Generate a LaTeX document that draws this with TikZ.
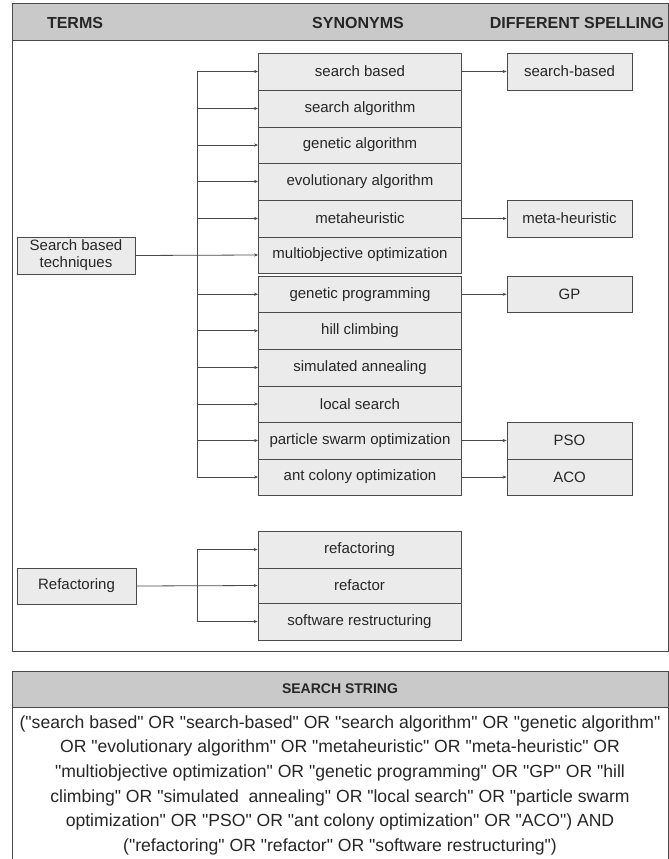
\documentclass[tikz,border=0pt]{standalone}
\usepackage{fontspec}
\setmainfont{Liberation Sans}[Ligatures=TeXOff]
\usetikzlibrary{arrows.meta}
\definecolor{hdrgray}{HTML}{C9C9C9}
\definecolor{boxgray}{HTML}{EBEBEB}
\definecolor{edgegray}{HTML}{4A4A4A}
\begin{document}
\begin{tikzpicture}[x=1pt,y=-1pt,
  panel/.style={draw=edgegray,line width=1pt},
  hdr/.style={font=\fontsize{16}{18}\selectfont\bfseries,text=black!85},
  termbox/.style={draw=edgegray,fill=boxgray,line width=0.8pt,inner sep=0pt,
    font=\fontsize{15}{17}\selectfont,text=black!85,align=center},
  conn/.style={draw=edgegray,line width=0.8pt},
  arr/.style={conn,-{Stealth[length=4pt,width=3.2pt]}}]
\useasboundingbox (0,0) rectangle (669,859);

% ---------- upper panel ----------
\fill[hdrgray] (12,4) rectangle (668,41);
\draw[panel] (12,4) rectangle (668,651);
\draw[panel] (12,41) -- (668,41);
\node[hdr] (hTerms) at (75,22.5) {TERMS};
\node[hdr] (hSyn) at (358,22.5) {SYNONYMS};
\node[hdr] (hSpell) at (577,22.5) {DIFFERENT SPELLING};

% synonym column: name / top / bottom / label
\foreach \n/\t/\b/\l in {
  sb/53/90/search based,
  sa/90/127/search algorithm,
  ga/127/163/genetic algorithm,
  ea/163/200/evolutionary algorithm,
  mh/200/237/metaheuristic,
  mo/237/273/multiobjective optimization,
  gp/276/312.5/genetic programming,
  hc/312.5/349/hill climbing,
  sim/349/386/simulated annealing,
  ls/386/422/local search,
  pso/422/459/particle swarm optimization,
  aco/459/495/ant colony optimization}
{
  \node[termbox,minimum width=203pt,minimum height={(\b-\t)*1pt}]
    (\n) at (360,{(\t+\b)/2}) {\l};
}

% spelling variants
\foreach \n/\t/\b/\l in {
  vsb/53/90/search-based,
  vmh/200/237/meta-heuristic,
  vgp/276/312.5/GP,
  vpso/422/459/PSO,
  vaco/459/495/ACO}
{
  \node[termbox,minimum width=125pt,minimum height={(\b-\t)*1pt}]
    (\n) at (569.5,{(\t+\b)/2}) {\l};
}

\foreach \a/\b in {sb/vsb,mh/vmh,gp/vgp,pso/vpso,aco/vaco}
  \draw[arr] (\a.east) -- (\b.west);

% search based techniques
\node[termbox,minimum width=118pt,minimum height=37pt] (sbt) at (76,255.5)
  {Search based\\techniques};
\coordinate (trunk) at (197,0);
\draw[conn] (trunk |- sb.west) -- (trunk |- aco.west);
\foreach \n in {sb,sa,ga,ea,mh,gp,hc,sim,ls,pso,aco}
  \draw[arr] (trunk |- \n.west) -- (\n.west);
\draw[arr] (sbt.east) -- (mo.west);

% refactoring
\foreach \n/\t/\b/\l in {
  rf/531/568/refactoring,
  rr/568/603/refactor,
  rs/603/640/software restructuring}
{
  \node[termbox,minimum width=203pt,minimum height={(\b-\t)*1pt}]
    (\n) at (359.5,{(\t+\b)/2}) {\l};
}
\node[termbox,minimum width=119pt,minimum height=36pt] (ref) at (76.5,586)
  {Refactoring};
\draw[conn] (trunk |- rf.west) -- (trunk |- rs.west);
\foreach \n in {rf,rs}
  \draw[arr] (trunk |- \n.west) -- (\n.west);
\draw[arr] (ref.east) -- (rr.west);

% ---------- search string panel ----------
\fill[hdrgray] (12,671) rectangle (668,707);
\draw[panel] (12,871) -- (12,671) -- (668,671) -- (668,871);
\draw[panel] (12,707) -- (668,707);
\node[hdr,font=\fontsize{14}{16}\selectfont\bfseries] (hStr) at (340,689) {SEARCH STRING};
\node[font=\fontsize{17.6}{24.6}\selectfont,text=black!85,align=center,anchor=north]
  (str) at (340,712) {("search based" OR "search-based" OR "search algorithm" OR "genetic algorithm"\\
OR "evolutionary algorithm" OR "metaheuristic" OR "meta-heuristic" OR\\
"multiobjective optimization" OR "genetic programming" OR "GP" OR "hill\\
climbing" OR "simulated\ \ annealing" OR "local search" OR "particle swarm\\
optimization" OR "PSO" OR "ant colony optimization" OR "ACO") AND\\
("refactoring" OR "refactor" OR "software restructuring")};
\end{tikzpicture}
\end{document}
